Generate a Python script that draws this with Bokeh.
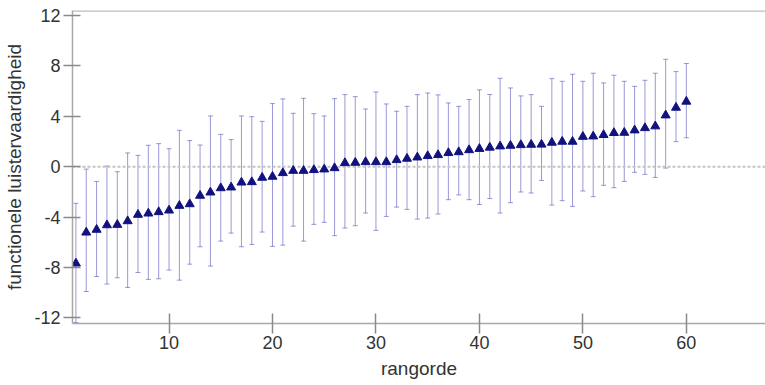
from bokeh.plotting import figure
from bokeh.models import ColumnDataSource, Whisker, TeeHead, Span, FixedTicker, Range1d
from bokeh.embed import file_html
from bokeh.resources import INLINE

rank = list(range(1, 61))
means = [-7.68, -5.22, -5.00, -4.64, -4.61, -4.32, -3.81, -3.71, -3.60, -3.47,
         -3.10, -2.97, -2.30, -2.04, -1.70, -1.64, -1.25, -1.22, -0.87, -0.79,
         -0.50, -0.32, -0.32, -0.26, -0.21, -0.11, 0.29, 0.32, 0.37, 0.37,
         0.37, 0.53, 0.64, 0.74, 0.85, 0.93, 1.09, 1.16, 1.32, 1.42,
         1.52, 1.62, 1.67, 1.72, 1.75, 1.76, 1.91, 1.99, 1.99, 2.38,
         2.41, 2.52, 2.68, 2.70, 2.89, 3.07, 3.21, 4.08, 4.69, 5.17]
upper = [-2.91, -0.19, -1.17, 0.05, -0.40, 1.09, 0.90, 1.70, 1.83, 1.43,
         2.89, 2.07, 1.72, 4.03, 2.57, 2.15, 4.03, 3.97, 3.60, 5.01,
         5.38, 4.24, 5.43, 4.21, 4.03, 5.40, 5.72, 5.56, 4.58, 5.93,
         4.98, 4.40, 4.79, 5.72, 5.85, 5.70, 5.06, 4.79, 5.33, 6.10,
         5.73, 7.02, 6.25, 5.62, 5.72, 4.79, 6.99, 6.78, 7.34, 6.78,
         7.42, 6.65, 7.26, 6.78, 6.38, 6.86, 7.42, 8.53, 7.55, 8.19]
lower = [-12.37, -9.91, -8.72, -9.32, -8.82, -9.59, -8.40, -8.95, -8.90, -8.21,
         -9.01, -7.74, -6.36, -7.89, -5.91, -5.27, -6.36, -6.17, -5.19, -6.33,
         -6.23, -4.72, -5.91, -4.58, -4.42, -5.48, -4.87, -4.69, -3.68, -5.06,
         -3.95, -3.21, -3.39, -4.16, -4.08, -3.76, -2.62, -2.24, -2.62, -3.00,
         -2.53, -3.68, -2.86, -2.01, -2.09, -1.09, -3.05, -2.70, -3.15, -1.93,
         -2.38, -1.48, -1.67, -1.17, -0.45, -0.61, -0.85, -0.11, 1.99, 2.30]
x_ticks = [10, 20, 30, 40, 50, 60]
y_ticks = [-12, -8, -4, 0, 4, 8, 12]
y_tick_labels = ["-12", "-8", "-4", "0", "4", "8", "12"]

src = ColumnDataSource(dict(x=rank, y=means, upper=upper, lower=lower))

p = figure(width=765, height=385, output_backend="svg", toolbar_location=None,
           x_range=Range1d(0.67, 67.65), y_range=Range1d(-12.45, 12.4),
           min_border_left=72, min_border_right=0, min_border_top=10, min_border_bottom=62)
p.outline_line_color = None
p.xgrid.visible = False
p.ygrid.visible = False
p.background_fill_color = "white"
p.border_fill_color = "white"

bar_col = "#4646b8"
w = Whisker(source=src, base="x", upper="upper", lower="lower",
            line_color=bar_col, line_alpha=0.55, line_width=1,
            upper_head=TeeHead(size=5, line_color=bar_col, line_alpha=0.55, line_width=1),
            lower_head=TeeHead(size=5, line_color=bar_col, line_alpha=0.55, line_width=1))
w.level = "underlay"
p.add_layout(w)

p.add_layout(Span(location=0, dimension="width", line_color="#c4c4c4",
                  line_dash="3 2", line_width=2, level="underlay"))
p.add_layout(Span(location=12.38, dimension="width", line_color="#bdbdbd", line_width=2))

p.scatter("x", "y", source=src, marker="triangle", size=9,
          fill_color="#12127e", line_color="#12127e")

for ax in (p.xaxis[0], p.yaxis[0]):
    ax.axis_line_color = "#a8a8a8"
    ax.axis_line_width = 1.5
    ax.major_tick_line_color = "#8a8a8a"
    ax.major_tick_line_width = 1.5
    ax.minor_tick_line_color = None
    ax.major_label_text_font = "Liberation Sans"
    ax.major_label_text_font_size = "18px"
    ax.major_label_text_color = "#333333"
    ax.axis_label_text_font = "Liberation Sans"
    ax.axis_label_text_font_size = "19px"
    ax.axis_label_text_font_style = "normal"
    ax.axis_label_text_color = "#333333"

p.xaxis[0].ticker = FixedTicker(ticks=x_ticks)
p.yaxis[0].ticker = FixedTicker(ticks=y_ticks)
p.yaxis[0].major_label_overrides = {t: s for t, s in zip(y_ticks, y_tick_labels)}
p.xaxis[0].major_tick_in = 10
p.xaxis[0].major_tick_out = 10
p.xaxis[0].major_label_standoff = 2
p.xaxis[0].axis_label = "rangorde"
p.xaxis[0].axis_label_standoff = 6
p.yaxis[0].major_tick_in = 8
p.yaxis[0].major_tick_out = 9
p.yaxis[0].major_label_standoff = 3
p.yaxis[0].axis_label = "functionele luistervaardigheid"
p.yaxis[0].axis_label_standoff = 6

open("out.html", "w").write(file_html(p, INLINE))
